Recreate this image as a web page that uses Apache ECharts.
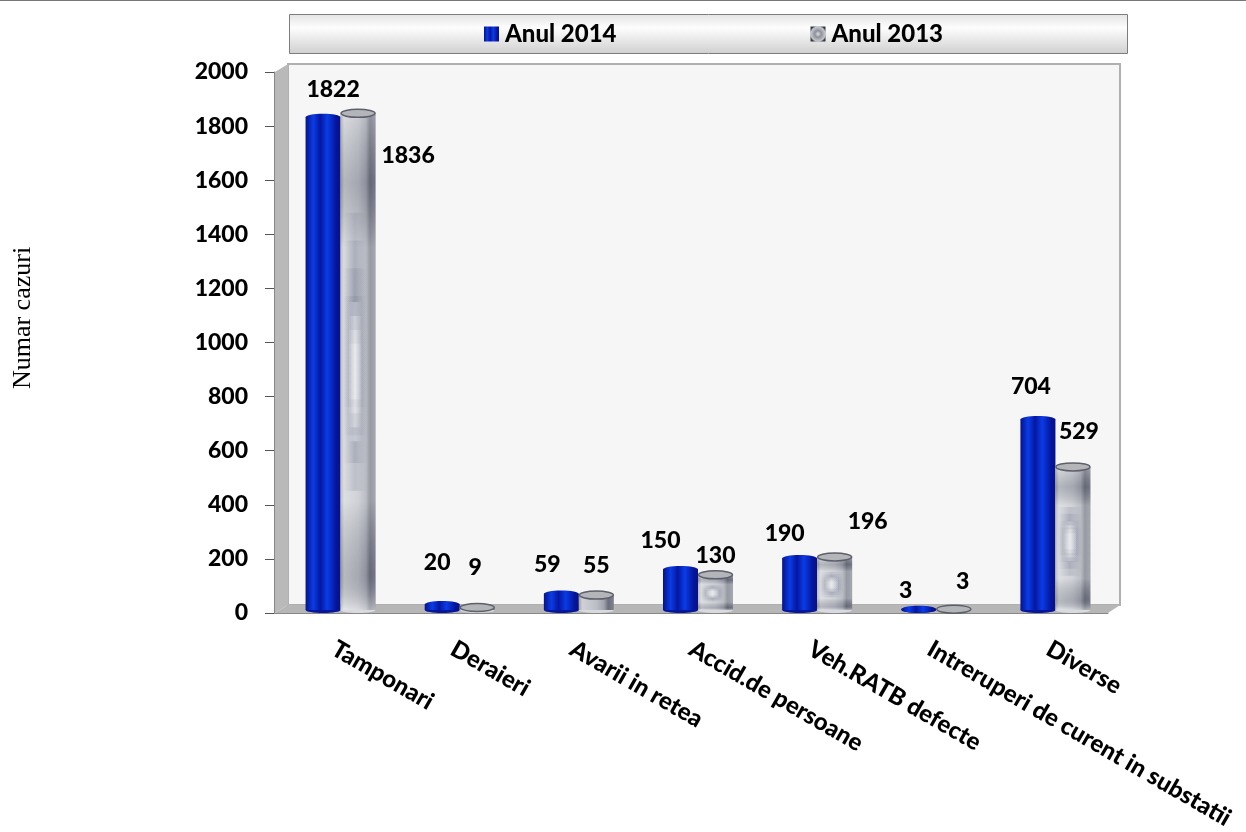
<!DOCTYPE html>
<html>
<head>
<meta charset="UTF-8">
<title>Numar cazuri</title>
<script src="https://cdn.jsdelivr.net/npm/echarts@6/dist/echarts.min.js"></script>
<style>
html, body { margin: 0; padding: 0; background: #fff; }
#chart { width: 1246px; height: 832px; }
</style>
</head>
<body>
<div id="chart"></div>
<script>
var categories = ['Tamponari', 'Deraieri', 'Avarii in retea', 'Accid.de persoane', 'Veh.RATB defecte', 'Intreruperi de curent in substatii', 'Diverse'];
var values2014 = [1822, 20, 59, 150, 190, 3, 704];
var values2013 = [1836, 9, 55, 130, 196, 3, 529];
var yTicks = { min: 0, max: 2000, interval: 200 };

// labels sit in odd places in the original, so each one has its own offset
var labelDx2014 = [10, -5, -14, -20, -15, -13, -7];
var labelDy2014 = [-31, -45, -32, -32, -28, -22, -36];
var labelDx2013 = [50, -2, 0, 0, 33, 9, 6];
var labelDy2013 = [39, -43, -33, -22, -38, -31, -38];

var FONT = 'Lato';
var BAR_W = 35;
var PAIR_SHIFT = 7; // pair sits right of the tick centre because of the fake depth

function hGrad(stops) {
	return { type: 'linear', x: 0, y: 0, x2: 1, y2: 0, colorStops: stops };
}
function vGrad(stops) {
	return { type: 'linear', x: 0, y: 0, x2: 0, y2: 1, colorStops: stops };
}

var blueFill = hGrad([
	{ offset: 0, color: '#05128a' }, { offset: 0.22, color: '#0a3ce6' },
	{ offset: 0.42, color: '#0616a0' }, { offset: 0.62, color: '#0a3ce6' },
	{ offset: 0.88, color: '#05149a' }, { offset: 1, color: '#05128a' }
]);
var grayFill = hGrad([
	{ offset: 0, color: '#a0a0a0' }, { offset: 0.1, color: '#cfd1d6' },
	{ offset: 0.5, color: '#bcbec6' }, { offset: 0.72, color: '#a0a3ad' },
	{ offset: 0.84, color: '#6a6e7b' }, { offset: 1, color: '#80838e' }
]);
var graySheen = vGrad([
	{ offset: 0, color: 'rgba(255,255,255,0.25)' }, { offset: 0.14, color: 'rgba(70,75,90,0.2)' },
	{ offset: 0.27, color: 'rgba(255,255,255,0.3)' }, { offset: 0.78, color: 'rgba(255,255,255,0.3)' },
	{ offset: 0.93, color: 'rgba(70,75,90,0.18)' }, { offset: 1, color: 'rgba(255,255,255,0.45)' }
]);
var glowDark = hGrad([
	{ offset: 0, color: 'rgba(110,118,140,0)' }, { offset: 0.5, color: 'rgba(110,118,140,0.22)' },
	{ offset: 1, color: 'rgba(110,118,140,0)' }
]);
var glowLight = hGrad([
	{ offset: 0, color: 'rgba(255,255,255,0)' }, { offset: 0.5, color: 'rgba(255,255,255,0.32)' },
	{ offset: 1, color: 'rgba(255,255,255,0)' }
]);

// nested rects, each a bit shorter, so the glow fades out at both ends
function pushGlow(kids, cx, width, y, height, fill) {
	for (var k = 0; k < 4; k++) {
		var inset = height * 0.1 * k;
		kids.push({ type: 'rect', shape: { x: cx - width / 2, y: y + inset, width: width, height: height - 2 * inset },
			style: { fill: fill } });
	}
}

function makeRenderItem(isBlue, dxs, dys) {
	return function (params, api) {
		var i = api.value(0);
		var top = api.coord([i, api.value(1)]);
		var base = api.coord([i, 0]);
		var cx = top[0] + PAIR_SHIFT + (isBlue ? -BAR_W / 2 : BAR_W / 2);
		var topY = top[1] - 3;
		var baseY = base[1] - 3;
		var left = cx - BAR_W / 2;
		var h = baseY - topY;
		var kids = [];

		// bottom rim
		kids.push({ type: 'ellipse', shape: { cx: cx, cy: baseY, rx: BAR_W / 2, ry: 3 },
			style: { fill: isBlue ? '#06169a' : '#d9dade' } });
		kids.push({ type: 'rect', shape: { x: left, y: topY, width: BAR_W, height: h },
			style: { fill: isBlue ? blueFill : grayFill } });

		if (!isBlue && h > 20) {
			kids.push({ type: 'rect', shape: { x: left, y: topY, width: BAR_W, height: h },
				style: { fill: graySheen } });
			var darkFrom = h > 300 ? 0.2 : 0.28;
			pushGlow(kids, cx - 3, 24, topY + h * darkFrom, h * (0.76 - darkFrom), glowDark);
			pushGlow(kids, cx - 3, 14, topY + h * 0.38, h * 0.28, glowLight);
		}

		// top cap
		if (isBlue) {
			kids.push({ type: 'ellipse', shape: { cx: cx, cy: topY, rx: BAR_W / 2, ry: 3.5 },
				style: { fill: blueFill } });
		} else {
			kids.push({ type: 'ellipse', shape: { cx: cx, cy: topY, rx: BAR_W / 2 - 0.5, ry: 4 },
				style: { fill: '#b4b5b8', stroke: '#5d606a', lineWidth: 1.5 } });
		}

		kids.push({ type: 'text', style: {
			x: cx + dxs[i],
			y: top[1] + dys[i],
			text: String(api.value(1)),
			align: 'center', verticalAlign: 'middle',
			fontFamily: FONT, fontWeight: 900, fontSize: 23, fill: '#000'
		} });
		return { type: 'group', children: kids };
	};
}

function toPoints(values) {
	var pts = [];
	for (var i = 0; i < values.length; i++) {
		pts.push([i, values[i]]);
	}
	return pts;
}

var chart = echarts.init(document.getElementById('chart'), null, { renderer: 'canvas' });
chart.setOption({
	animation: false,
	backgroundColor: '#fff',
	textStyle: { fontFamily: FONT },
	grid: { left: 274, right: 138, top: 72, bottom: 219 },
	legend: {
		left: 484, top: 22, padding: 0,
		itemWidth: 15, itemHeight: 15, itemGap: 194,
		textStyle: { fontFamily: FONT, fontWeight: 900, fontSize: 24, color: '#000', padding: [0, 0, 0, 1] },
		data: [
			{ name: 'Anul 2014', icon: 'rect', itemStyle: { color: blueFill } },
			{ name: 'Anul 2013', icon: 'rect', itemStyle: {
				color: { type: 'radial', x: 0.5, y: 0.5, r: 0.72, colorStops: [
					{ offset: 0, color: '#dfe0e4' }, { offset: 0.3, color: '#8d9099' }, { offset: 0.65, color: '#c4c6cb' }, { offset: 0.8, color: '#34363c' }, { offset: 1, color: '#34363c' }
				] } } }
		]
	},
	xAxis: {
		type: 'category',
		data: categories,
		axisLine: { lineStyle: { color: '#888', width: 1 } },
		axisTick: { length: 7, lineStyle: { color: '#555' } },
		axisLabel: {
			interval: 0, rotate: -30, margin: 34,
			fontFamily: FONT, fontWeight: 900, fontSize: 24, color: '#000'
		}
	},
	yAxis: {
		type: 'value',
		min: yTicks.min, max: yTicks.max, interval: yTicks.interval,
		splitLine: { show: false },
		axisLine: { show: true, lineStyle: { color: '#888', width: 1 } },
		axisTick: { show: true, length: 9, lineStyle: { color: '#555' } },
		axisLabel: {
			margin: 26, fontFamily: FONT, fontWeight: 900, fontSize: 23, color: '#000',
			formatter: function (v) { return String(v); }
		}
	},
	graphic: [
		{ type: 'rect', shape: { x: 0, y: 0, width: 1246, height: 1 }, style: { fill: '#777' } },
		// legend box
		{ type: 'rect', shape: { x: 289.5, y: 14.5, width: 838, height: 39 }, style: {
			fill: vGrad([{ offset: 0, color: '#e4e4e4' }, { offset: 0.35, color: '#fdfdfd' }, { offset: 1, color: '#cfcfcf' }]),
			stroke: '#7d7d7d', lineWidth: 1 } },
		// fake 3d walls
		{ type: 'rect', shape: { x: 288, y: 64, width: 832, height: 541 }, style: { fill: '#f6f6f6', stroke: '#b0b0b0', lineWidth: 2 } },
		{ type: 'polygon', shape: { points: [[275, 72], [288, 64], [288, 605], [275, 613]] }, style: { fill: '#b9b9b9' } },
		{ type: 'polygon', shape: { points: [[275, 613], [288, 605], [1120, 605], [1108, 613]] }, style: { fill: '#b6b6b6' } },
		{ type: 'text', rotation: Math.PI / 2, x: 23, y: 318, style: {
			text: 'Numar cazuri', align: 'center', verticalAlign: 'middle',
			fontFamily: 'Liberation Serif', fontSize: 26, fill: '#000' } }
	],
	series: [
		{
			name: 'Anul 2014', type: 'custom', z: 3, clip: false,
			encode: { x: 0, y: 1 },
			data: toPoints(values2014),
			renderItem: makeRenderItem(true, labelDx2014, labelDy2014)
		},
		{
			name: 'Anul 2013', type: 'custom', z: 3, clip: false,
			encode: { x: 0, y: 1 },
			data: toPoints(values2013),
			renderItem: makeRenderItem(false, labelDx2013, labelDy2013)
		}
	]
});
</script>
</body>
</html>
